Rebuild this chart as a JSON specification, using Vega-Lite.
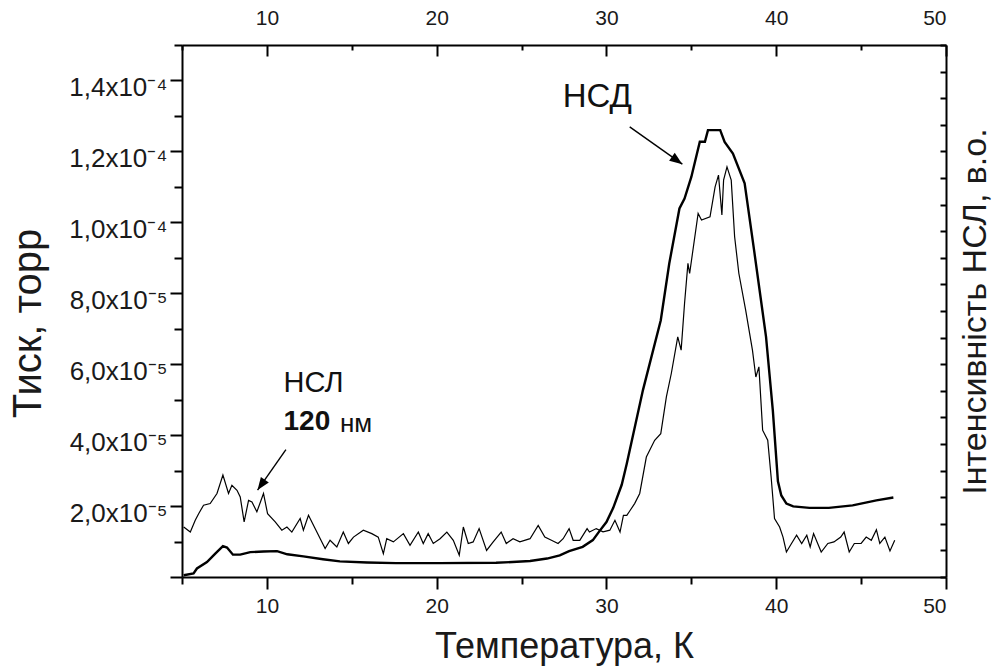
{
  "$schema": "https://vega.github.io/schema/vega-lite/v6.json",
  "width": 764,
  "height": 532,
  "autosize": {"type": "none"},
  "padding": {"left": 182, "top": 45, "right": 52, "bottom": 93},
  "background": "white",
  "config": {
    "font": "Liberation Sans",
    "view": {"stroke": null},
    "axis": {
      "domainColor": "#000",
      "domainWidth": 2,
      "tickColor": "#000",
      "tickWidth": 2,
      "labelColor": "#1a1a1a",
      "titleColor": "#1a1a1a",
      "grid": false,
      "titleFontWeight": "normal",
      "labelFont": "Liberation Sans",
      "titleFont": "Liberation Sans"
    }
  },
  "datasets": {
    "nsd": [
      {"T": 5.1, "P": 5e-7}, {"T": 5.68, "P": 1.0e-6}, {"T": 5.88, "P": 2.4e-6}, {"T": 6.47, "P": 4.2e-6},
      {"T": 6.96, "P": 6.6e-6}, {"T": 7.41, "P": 8.7e-6}, {"T": 7.65, "P": 8.3e-6}, {"T": 8.0, "P": 6.3e-6},
      {"T": 8.43, "P": 6.3e-6}, {"T": 9.02, "P": 7.0e-6}, {"T": 9.8, "P": 7.2e-6}, {"T": 10.6, "P": 7.3e-6},
      {"T": 11.2, "P": 6.4e-6}, {"T": 12.15, "P": 5.8e-6}, {"T": 13.3, "P": 5.0e-6}, {"T": 14.3, "P": 4.4e-6},
      {"T": 15.9, "P": 4.1e-6}, {"T": 17.6, "P": 3.9e-6}, {"T": 20.2, "P": 3.9e-6}, {"T": 23.5, "P": 4.0e-6},
      {"T": 25.5, "P": 4.5e-6}, {"T": 26.5, "P": 5.2e-6}, {"T": 27.25, "P": 6.1e-6}, {"T": 27.8, "P": 7.3e-6},
      {"T": 28.6, "P": 8.5e-6}, {"T": 29.2, "P": 1.04e-5}, {"T": 29.6, "P": 1.30e-5}, {"T": 30.0, "P": 1.55e-5},
      {"T": 30.4, "P": 1.95e-5}, {"T": 30.9, "P": 2.6e-5}, {"T": 31.2, "P": 3.2e-5}, {"T": 32.15, "P": 5.27e-5},
      {"T": 33.2, "P": 7.24e-5}, {"T": 33.7, "P": 8.84e-5}, {"T": 34.3, "P": 1.039e-4}, {"T": 34.6, "P": 1.067e-4},
      {"T": 35.0, "P": 1.128e-4}, {"T": 35.5, "P": 1.227e-4}, {"T": 35.8, "P": 1.227e-4}, {"T": 35.98, "P": 1.26e-4},
      {"T": 36.7, "P": 1.26e-4}, {"T": 36.96, "P": 1.227e-4}, {"T": 37.45, "P": 1.194e-4}, {"T": 38.14, "P": 1.11e-4},
      {"T": 38.7, "P": 9.2e-5}, {"T": 39.4, "P": 6.77e-5}, {"T": 39.8, "P": 4.7e-5}, {"T": 40.1, "P": 2.7e-5},
      {"T": 40.3, "P": 2.3e-5}, {"T": 40.6, "P": 2.07e-5}, {"T": 41.0, "P": 1.99e-5}, {"T": 41.96, "P": 1.95e-5},
      {"T": 43.1, "P": 1.95e-5}, {"T": 44.5, "P": 2.02e-5}, {"T": 45.9, "P": 2.16e-5}, {"T": 46.9, "P": 2.24e-5}
    ],
    "nsl": [
      {"T": 5.1, "I": 1.88}, {"T": 5.49, "I": 1.69}, {"T": 5.78, "I": 2.13}, {"T": 5.98, "I": 2.38},
      {"T": 6.27, "I": 2.7}, {"T": 6.66, "I": 2.76}, {"T": 7.06, "I": 3.14}, {"T": 7.41, "I": 3.83},
      {"T": 7.74, "I": 3.14}, {"T": 7.94, "I": 3.45}, {"T": 8.24, "I": 3.26}, {"T": 8.43, "I": 3.01},
      {"T": 8.66, "I": 2.07}, {"T": 8.92, "I": 2.88}, {"T": 9.12, "I": 2.82}, {"T": 9.41, "I": 2.45},
      {"T": 9.8, "I": 3.14}, {"T": 10.04, "I": 2.38}, {"T": 10.49, "I": 2.07}, {"T": 10.88, "I": 1.76},
      {"T": 11.18, "I": 1.88}, {"T": 11.47, "I": 1.69}, {"T": 11.96, "I": 2.2}, {"T": 12.15, "I": 1.76},
      {"T": 12.45, "I": 2.32}, {"T": 12.84, "I": 1.82}, {"T": 13.43, "I": 1.07}, {"T": 13.72, "I": 1.38},
      {"T": 14.12, "I": 1.13}, {"T": 14.5, "I": 1.69}, {"T": 14.8, "I": 1.26}, {"T": 15.1, "I": 1.5},
      {"T": 15.68, "I": 1.76}, {"T": 16.18, "I": 1.63}, {"T": 16.56, "I": 1.5}, {"T": 16.86, "I": 0.88},
      {"T": 17.06, "I": 1.44}, {"T": 17.45, "I": 1.32}, {"T": 18.04, "I": 1.63}, {"T": 18.43, "I": 1.19},
      {"T": 18.92, "I": 1.69}, {"T": 19.21, "I": 1.26}, {"T": 19.5, "I": 1.63}, {"T": 19.8, "I": 1.26},
      {"T": 20.2, "I": 1.44}, {"T": 20.6, "I": 1.69}, {"T": 20.98, "I": 1.38}, {"T": 21.33, "I": 0.82},
      {"T": 21.57, "I": 1.88}, {"T": 21.86, "I": 1.26}, {"T": 22.15, "I": 1.32}, {"T": 22.5, "I": 1.82},
      {"T": 22.94, "I": 1.0}, {"T": 23.33, "I": 1.32}, {"T": 23.8, "I": 1.69}, {"T": 24.1, "I": 1.26},
      {"T": 24.5, "I": 1.44}, {"T": 24.9, "I": 1.32}, {"T": 25.5, "I": 1.44}, {"T": 25.98, "I": 1.94},
      {"T": 26.37, "I": 1.5}, {"T": 26.76, "I": 1.38}, {"T": 27.15, "I": 1.26}, {"T": 27.45, "I": 1.44},
      {"T": 27.8, "I": 1.82}, {"T": 28.04, "I": 1.38}, {"T": 28.43, "I": 1.38}, {"T": 28.86, "I": 1.82},
      {"T": 29.0, "I": 1.69}, {"T": 29.4, "I": 1.82}, {"T": 29.8, "I": 1.7}, {"T": 30.2, "I": 1.76},
      {"T": 30.5, "I": 2.13}, {"T": 30.8, "I": 1.69}, {"T": 31.0, "I": 2.32}, {"T": 31.2, "I": 2.32},
      {"T": 31.4, "I": 2.51}, {"T": 31.66, "I": 2.76}, {"T": 31.96, "I": 3.14}, {"T": 32.35, "I": 4.51},
      {"T": 32.84, "I": 5.14}, {"T": 33.2, "I": 5.39}, {"T": 33.53, "I": 6.77}, {"T": 33.82, "I": 7.65},
      {"T": 34.2, "I": 9.03}, {"T": 34.4, "I": 8.53}, {"T": 34.6, "I": 10.28}, {"T": 34.8, "I": 11.79},
      {"T": 34.9, "I": 11.41}, {"T": 35.4, "I": 13.67}, {"T": 35.6, "I": 13.42}, {"T": 36.1, "I": 13.54},
      {"T": 36.4, "I": 14.67}, {"T": 36.6, "I": 15.11}, {"T": 36.8, "I": 13.61}, {"T": 36.9, "I": 14.92},
      {"T": 37.1, "I": 15.42}, {"T": 37.35, "I": 14.92}, {"T": 37.55, "I": 12.79}, {"T": 37.8, "I": 11.41},
      {"T": 38.2, "I": 10.03}, {"T": 38.6, "I": 8.53}, {"T": 38.8, "I": 7.52}, {"T": 38.98, "I": 7.9},
      {"T": 39.2, "I": 5.52}, {"T": 39.5, "I": 5.14}, {"T": 39.7, "I": 3.76}, {"T": 39.9, "I": 2.2},
      {"T": 40.2, "I": 1.88}, {"T": 40.4, "I": 1.5}, {"T": 40.6, "I": 0.94}, {"T": 40.9, "I": 1.26},
      {"T": 41.2, "I": 1.57}, {"T": 41.5, "I": 1.26}, {"T": 41.8, "I": 1.57}, {"T": 42.0, "I": 1.13},
      {"T": 42.2, "I": 1.63}, {"T": 42.65, "I": 0.94}, {"T": 43.04, "I": 1.26}, {"T": 43.4, "I": 1.32},
      {"T": 43.8, "I": 1.5}, {"T": 44.0, "I": 1.69}, {"T": 44.3, "I": 0.94}, {"T": 44.6, "I": 1.26},
      {"T": 45.0, "I": 1.26}, {"T": 45.3, "I": 1.5}, {"T": 45.6, "I": 1.38}, {"T": 45.9, "I": 1.78},
      {"T": 46.1, "I": 1.26}, {"T": 46.4, "I": 1.5}, {"T": 46.7, "I": 0.98}, {"T": 46.98, "I": 1.38}
    ],
    "labels": [
      {"T": 29.46, "P": 1.352e-4, "text": "НСД"}
    ],
    "nslLabel": [
      {"T": 10.98, "P": 5.48e-5, "text": "НСЛ"}
    ],
    "boldLabel": [
      {"T": 10.98, "P": 4.37e-5, "text": "120"}
    ],
    "unitLabel": [
      {"T": 14.3, "P": 4.37e-5, "text": "нм"}
    ],
    "arrowNSD": [
      {"T": 31.37, "P": 1.269e-4, "T2": 34.47, "P2": 1.164e-4}
    ],
    "arrowNSL": [
      {"T": 11.12, "P": 3.59e-5, "T2": 9.45, "P2": 2.45e-5}
    ]
  },
  "resolve": {"scale": {"y": "independent"}},
  "layer": [
    {
      "data": {"name": "nsd"},
      "mark": {"type": "line", "color": "#000", "strokeWidth": 2.4},
      "encoding": {
        "x": {
          "field": "T", "type": "quantitative",
          "scale": {"domain": [5, 50], "nice": false, "zero": false},
          "axis": {
            "orient": "bottom",
            "values": [5, 10, 15, 20, 25, 30, 35, 40, 45, 50],
            "tickSize": {"condition": {"test": "datum.value % 10 === 0", "value": 12}, "value": 7},
            "labelExpr": "datum.value % 10 === 0 ? datum.label : ''",
            "labelFontSize": 21,
            "labelPadding": 6,
            "title": "Температура, К",
            "titleFontSize": 36,
            "titlePadding": 13
          }
        },
        "y": {
          "field": "P", "type": "quantitative",
          "scale": {"domain": [0, 0.00015], "nice": false},
          "axis": {
            "orient": "left",
            "values": [0, 0.00001, 0.00002, 0.00003, 0.00004, 0.00005, 0.00006, 0.00007, 0.00008, 0.00009, 0.0001, 0.00011, 0.00012, 0.00013, 0.00014, 0.00015],
            "tickSize": {"condition": {"test": "round(datum.value*1e5) % 2 === 0", "value": 12}, "value": 8},
            "labelExpr": "datum.value === 0 || round(datum.value*1e5) % 2 !== 0 ? '' : (datum.value < 0.000095 ? replace(format(datum.value*1e5, '.1f'), '.', ',') + 'x10⁻⁵' : replace(format(datum.value*1e4, '.1f'), '.', ',') + 'x10⁻⁴')",
            "labelFontSize": 26,
            "labelPadding": 3,
            "labelOffset": 7,
            "title": "Тиск, торр",
            "titleFontSize": 40,
            "titlePadding": 20,
            "titleY": 278
          }
        }
      }
    },
    {
      "data": {"name": "nsl"},
      "mark": {"type": "line", "color": "#000", "strokeWidth": 1.2},
      "encoding": {
        "x": {
          "field": "T", "type": "quantitative",
          "scale": {"domain": [5, 50], "nice": false, "zero": false},
          "axis": {
            "orient": "top",
            "values": [5, 10, 15, 20, 25, 30, 35, 40, 45, 50],
            "tickSize": {"condition": {"test": "datum.value % 10 === 0", "value": -11}, "value": -5},
            "labelExpr": "datum.value % 10 === 0 ? datum.label : ''",
            "labelFontSize": 21,
            "labelPadding": 28,
            "title": null
          }
        },
        "y": {
          "field": "I", "type": "quantitative",
          "scale": {"domain": [0, 20], "nice": false},
          "axis": {
            "orient": "right",
            "values": [0, 1, 2, 3, 4, 5, 6, 7, 8, 9, 10, 11, 12, 13, 14, 15, 16, 17, 18, 19, 20],
            "tickSize": -6,
            "labels": false,
            "title": "Інтенсивність НСЛ, в.о.",
            "titleAngle": 270,
            "titleBaseline": "top",
            "titleFontSize": 34,
            "titlePadding": 11
          }
        }
      }
    },
    {
      "data": {"name": "labels"},
      "mark": {"type": "text", "fontSize": 33, "align": "center", "baseline": "middle", "color": "#111"},
      "encoding": {
        "x": {"field": "T", "type": "quantitative", "axis": null},
        "y": {"field": "P", "type": "quantitative", "scale": {"domain": [0, 0.00015], "nice": false}, "axis": null},
        "text": {"field": "text"}
      }
    },
    {
      "data": {"name": "nslLabel"},
      "mark": {"type": "text", "fontSize": 29, "align": "left", "baseline": "middle", "color": "#111"},
      "encoding": {
        "x": {"field": "T", "type": "quantitative", "axis": null},
        "y": {"field": "P", "type": "quantitative", "scale": {"domain": [0, 0.00015], "nice": false}, "axis": null},
        "text": {"field": "text"}
      }
    },
    {
      "data": {"name": "boldLabel"},
      "mark": {"type": "text", "fontSize": 28, "fontWeight": "bold", "align": "left", "baseline": "middle", "color": "#111"},
      "encoding": {
        "x": {"field": "T", "type": "quantitative", "axis": null},
        "y": {"field": "P", "type": "quantitative", "scale": {"domain": [0, 0.00015], "nice": false}, "axis": null},
        "text": {"field": "text"}
      }
    },
    {
      "data": {"name": "unitLabel"},
      "mark": {"type": "text", "fontSize": 26, "align": "left", "baseline": "middle", "color": "#111", "dy": 2},
      "encoding": {
        "x": {"field": "T", "type": "quantitative", "axis": null},
        "y": {"field": "P", "type": "quantitative", "scale": {"domain": [0, 0.00015], "nice": false}, "axis": null},
        "text": {"field": "text"}
      }
    },
    {
      "data": {"name": "arrowNSD"},
      "mark": {"type": "rule", "color": "#000", "strokeWidth": 1.4},
      "encoding": {
        "x": {"field": "T", "type": "quantitative", "axis": null},
        "y": {"field": "P", "type": "quantitative", "scale": {"domain": [0, 0.00015], "nice": false}, "axis": null},
        "x2": {"field": "T2"},
        "y2": {"field": "P2"}
      }
    },
    {
      "data": {"name": "arrowNSD"},
      "mark": {"type": "point", "shape": "M0,0L-0.38,1L0.38,1Z", "filled": true, "color": "#000", "opacity": 1, "size": 650, "angle": 125.3},
      "encoding": {
        "x": {"field": "T2", "type": "quantitative", "axis": null},
        "y": {"field": "P2", "type": "quantitative", "scale": {"domain": [0, 0.00015], "nice": false}, "axis": null}
      }
    },
    {
      "data": {"name": "arrowNSL"},
      "mark": {"type": "rule", "color": "#000", "strokeWidth": 1.4},
      "encoding": {
        "x": {"field": "T", "type": "quantitative", "axis": null},
        "y": {"field": "P", "type": "quantitative", "scale": {"domain": [0, 0.00015], "nice": false}, "axis": null},
        "x2": {"field": "T2"},
        "y2": {"field": "P2"}
      }
    },
    {
      "data": {"name": "arrowNSL"},
      "mark": {"type": "point", "shape": "M0,0L-0.38,1L0.38,1Z", "filled": true, "color": "#000", "opacity": 1, "size": 650, "angle": 214.9},
      "encoding": {
        "x": {"field": "T2", "type": "quantitative", "axis": null},
        "y": {"field": "P2", "type": "quantitative", "scale": {"domain": [0, 0.00015], "nice": false}, "axis": null}
      }
    }
  ]
}
